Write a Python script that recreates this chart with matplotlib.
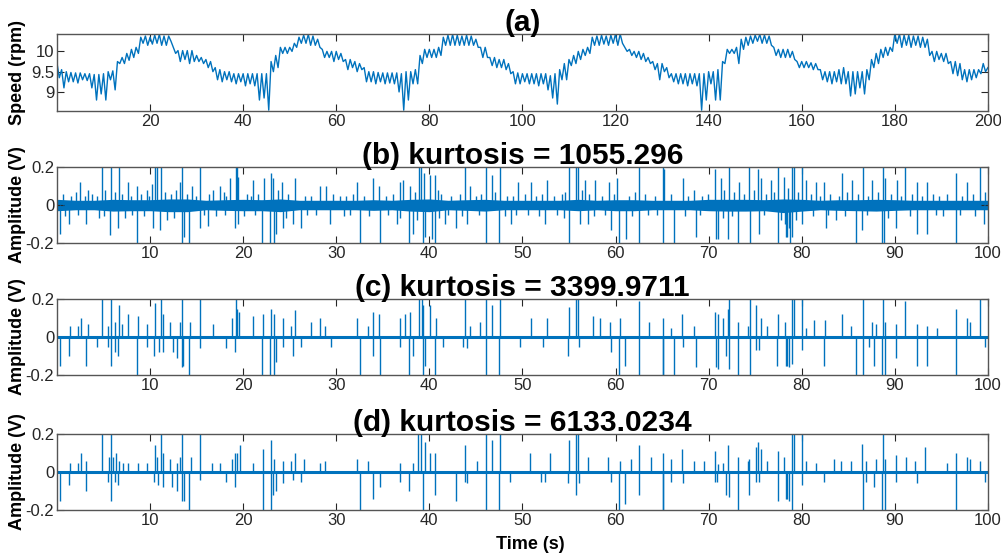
import numpy as np
import matplotlib.pyplot as plt

plt.rcParams['font.family'] = ['Liberation Sans', 'DejaVu Sans']

# (a) rotating speed: local peak at each whole second (0..200)
# and the dip half a second later (0.5..199.5)
speed_hi = [9.72, 9.55, 9.50, 9.48, 9.47, 9.47, 9.45, 9.45, 9.43, 9.43,
            9.45, 9.50, 9.52, 9.75, 9.85, 9.95, 10.05, 10.10, 10.35, 10.38,
            10.35, 10.40, 10.42, 10.38, 10.38, 10.10, 10.02, 10.02, 10.02, 10.02,
            9.90, 9.85, 9.80, 9.75, 9.60, 9.55, 9.50, 9.50, 9.45, 9.45,
            9.45, 9.45, 9.45, 9.45, 9.45, 9.45, 9.75, 9.90, 10.10, 10.10,
            10.10, 10.20, 10.35, 10.40, 10.42, 10.38, 10.30, 10.05, 10.00, 10.00,
            10.00, 9.95, 9.80, 9.80, 9.75, 9.70, 9.60, 9.50, 9.50, 9.48,
            9.47, 9.47, 9.47, 9.47, 9.45, 9.50, 9.50, 9.55, 9.90, 10.05,
            10.05, 10.05, 10.10, 10.35, 10.40, 10.42, 10.40, 10.38, 10.40, 10.38,
            10.30, 10.10, 10.10, 9.85, 9.85, 9.80, 9.80, 9.70, 9.50, 9.47,
            9.45, 9.45, 9.45, 9.45, 9.45, 9.45, 9.40, 9.45, 9.55, 9.70,
            9.80, 9.90, 10.00, 10.05, 10.10, 10.35, 10.38, 10.40, 10.38, 10.40,
            10.43, 10.43, 10.10, 10.05, 10.00, 10.00, 9.95, 9.85, 9.75, 9.70,
            9.70, 9.60, 9.45, 9.45, 9.45, 9.45, 9.45, 9.45, 9.45, 9.45,
            9.50, 9.50, 9.55, 9.75, 10.05, 10.05, 10.10, 10.30, 10.35, 10.38,
            10.40, 10.42, 10.40, 10.38, 10.10, 10.05, 10.05, 10.05, 10.00, 9.75,
            9.75, 9.75, 9.72, 9.70, 9.55, 9.50, 9.50, 9.50, 9.55, 9.60,
            9.50, 9.50, 9.50, 9.50, 9.55, 9.80, 9.95, 10.05, 10.10, 10.10,
            10.43, 10.43, 10.40, 10.40, 10.38, 10.38, 10.35, 10.30, 10.00, 10.00,
            9.95, 9.95, 9.75, 9.75, 9.70, 9.55, 9.55, 9.55, 9.55, 9.70,
            9.60]
speed_lo = [9.35, 9.10, 9.25, 9.25, 9.22, 9.30, 9.28, 9.10, 8.80, 8.95,
            8.80, 9.30, 9.05, 9.70, 9.70, 9.78, 9.85, 9.95, 10.20, 10.15,
            10.18, 10.20, 10.15, 10.15, 10.25, 9.95, 9.75, 9.80, 9.70, 9.75,
            9.75, 9.70, 9.60, 9.50, 9.30, 9.25, 9.30, 9.25, 9.20, 9.25,
            9.15, 9.20, 9.15, 8.80, 8.85, 8.55, 9.50, 9.60, 9.95, 9.95,
            10.00, 10.10, 10.20, 10.20, 10.15, 10.15, 10.10, 9.85, 9.85, 9.75,
            9.80, 9.75, 9.55, 9.60, 9.50, 9.55, 9.25, 9.25, 9.20, 9.25,
            9.20, 9.22, 9.20, 9.00, 8.55, 8.80, 9.20, 9.20, 9.70, 9.85,
            9.85, 9.85, 9.90, 10.15, 10.15, 10.15, 10.15, 10.15, 10.15, 10.15,
            10.10, 9.85, 9.85, 9.65, 9.60, 9.60, 9.55, 9.45, 9.20, 9.20,
            9.25, 9.20, 9.20, 9.15, 9.20, 9.05, 8.85, 8.70, 9.30, 9.30,
            9.65, 9.70, 9.80, 9.90, 9.95, 10.15, 10.15, 10.18, 10.15, 10.20,
            10.15, 10.20, 10.00, 9.90, 9.85, 9.80, 9.75, 9.70, 9.55, 9.30,
            9.50, 9.35, 9.25, 9.20, 9.20, 9.15, 9.20, 9.15, 8.55, 8.80,
            9.20, 8.80, 8.80, 9.70, 9.95, 9.95, 9.70, 10.05, 10.15, 10.20,
            10.25, 10.20, 10.20, 10.15, 9.90, 9.85, 9.85, 9.85, 9.80, 9.60,
            9.60, 9.60, 9.55, 9.55, 9.30, 9.25, 9.20, 9.25, 9.20, 9.20,
            8.90, 8.95, 9.10, 8.95, 9.30, 9.60, 9.70, 9.85, 9.90, 10.00,
            10.20, 10.10, 10.15, 10.10, 10.15, 10.10, 10.10, 9.90, 9.75, 9.80,
            9.75, 9.70, 9.45, 9.40, 9.30, 9.25, 9.30, 9.35, 9.45, 9.50]

# (b) raw vibration: envelope of the dense noise band, every 2 s
band_hi = [0.030, 0.025, 0.025, 0.030, 0.028, 0.028, 0.032, 0.032, 0.025, 0.028,
           0.030, 0.028, 0.032, 0.025, 0.025, 0.025, 0.025, 0.028, 0.025, 0.030,
           0.032, 0.025, 0.028, 0.030, 0.025, 0.025, 0.025, 0.025, 0.030, 0.025,
           0.028, 0.028, 0.025, 0.025, 0.025, 0.030, 0.030, 0.030, 0.028, 0.032,
           0.030, 0.025, 0.028, 0.028, 0.030, 0.028, 0.025, 0.025, 0.025, 0.025,
           0.025]
band_lo = [-0.030, -0.025, -0.025, -0.032, -0.030, -0.030, -0.035, -0.035, -0.025, -0.028,
           -0.030, -0.030, -0.035, -0.025, -0.025, -0.025, -0.025, -0.028, -0.025, -0.032,
           -0.035, -0.025, -0.028, -0.032, -0.025, -0.025, -0.025, -0.025, -0.030, -0.025,
           -0.030, -0.030, -0.025, -0.025, -0.025, -0.030, -0.032, -0.032, -0.030, -0.040,
           -0.032, -0.025, -0.028, -0.030, -0.032, -0.028, -0.025, -0.025, -0.025, -0.025,
           -0.025]

# short impulses riding on the noise band of (b)
b_small_t = [0.6, 1.5, 2.0, 3.0, 3.8, 4.3, 5.2, 6.2, 7.0, 7.9, 9.0, 9.9, 11.6, 12.3,
             12.8, 14.0, 14.9, 16.3, 17.9, 18.2, 20.4, 20.8, 21.6, 23.7, 24.8, 26.6,
             27.3, 29.6, 30.4, 31.1, 31.8, 33.0, 35.3, 36.1, 38.5, 40.9, 41.3, 42.3,
             43.3, 45.0, 45.6, 47.1, 48.3, 49.0, 50.3, 51.5, 52.1, 53.4, 54.2, 54.6,
             56.4, 57.2, 58.5, 59.8, 61.5, 62.1, 63.2, 64.2, 66.0, 67.8, 69.3, 69.9,
             71.7, 72.7, 73.8, 74.9, 76.2, 77.0, 78.5, 79.6, 81.0, 82.0, 83.0, 84.0,
             84.9, 86.0, 87.1, 88.2, 89.6, 90.7, 91.8, 92.9, 94.1, 94.8, 95.6, 97.2,
             98.4, 99.7,
             0.9, 2.3, 4.5, 5.0, 7.3, 8.1, 9.3, 11.8, 12.6, 15.8, 17.1, 18.0, 20.1,
             21.3, 24.6, 26.9, 27.8, 30.8, 31.5, 33.5, 35.6, 36.9, 38.7, 41.0, 42.0,
             43.5, 45.3, 48.1, 49.3, 50.6, 51.8, 53.7, 54.5, 57.7, 58.9, 61.8, 63.5,
             64.5, 67.5, 69.1, 71.5, 72.5, 76.0, 77.8, 78.2, 78.6, 79.4, 81.2, 82.8,
             84.6, 87.0, 89.3, 91.6, 94.4, 95.2, 97.0, 98.6]
b_small_v = [0.06, 0.05, 0.07, 0.05, 0.06, 0.05, 0.08, 0.07, 0.06, 0.05, 0.06, 0.05,
             0.07, 0.06, 0.08, 0.06, 0.05, 0.06, 0.07, 0.05, 0.06, 0.05, 0.06, 0.08,
             0.06, 0.05, 0.05, 0.06, 0.05, 0.05, 0.06, 0.05, 0.05, 0.06, 0.07, 0.08,
             0.06, 0.05, 0.06, 0.05, 0.06, 0.07, 0.05, 0.05, 0.06, 0.05, 0.06, 0.05,
             0.06, 0.07, 0.08, 0.06, 0.05, 0.06, 0.05, 0.07, 0.06, 0.05, 0.06, 0.05,
             0.05, 0.06, 0.08, 0.07, 0.06, 0.08, 0.06, 0.07, 0.09, 0.07, 0.06, 0.05,
             0.06, 0.05, 0.07, 0.06, 0.05, 0.07, 0.06, 0.05, 0.06, 0.05, 0.06, 0.05,
             0.06, 0.05, 0.06, 0.07,
             -0.06, -0.05, -0.07, -0.06, -0.07, -0.05, -0.06, -0.08, -0.07, -0.05,
             -0.06, -0.05, -0.06, -0.05, -0.07, -0.05, -0.05, -0.06, -0.05, -0.06,
             -0.05, -0.07, -0.08, -0.07, -0.05, -0.06, -0.05, -0.06, -0.05, -0.05,
             -0.06, -0.05, -0.07, -0.06, -0.05, -0.06, -0.05, -0.05, -0.06, -0.05,
             -0.07, -0.06, -0.05, -0.08, -0.10, -0.12, -0.08, -0.06, -0.05, -0.06,
             -0.05, -0.07, -0.06, -0.05, -0.06, -0.05, -0.06]

# impulses of each signal: time (s) and peak value (V); 0.25 means clipped at the frame
b_t = [4.82, 5.79, 6.64, 10.54, 10.71, 11.21, 13.46, 15.39, 19.18, 19.36, 23.0, 2.5,
       3.32, 7.64, 8.64, 9.64, 10.18, 13.21, 14.46, 16.79, 17.5, 18.57, 19.5, 21.07,
       22.21, 23.21, 24.21, 25.57, 28.21, 28.93,
       0.29, 1.25, 3.14, 5.71, 6.61, 8.64, 10.36, 11.07, 13.39, 13.64, 14.18, 15.36,
       16.25, 19.11, 19.5, 22.07, 22.93, 23.29, 23.5, 24.29, 25.36, 26.25, 29.29,
       32.21, 34.0, 34.64, 36.86, 37.21, 37.93, 38.86, 39.07, 39.46, 40.07, 40.61, 43.82,
       44.36, 46.14, 46.75, 47.57, 49.54, 50.96, 52.64, 55.0, 55.71, 55.96, 56.68, 57.75,
       59.29, 60.14, 62.57, 65.25,
       32.5, 34.71, 36.5, 37.82, 38.29, 39.29, 39.54, 40.25, 40.64, 41.68, 42.86, 44.0,
       46.07, 47.5, 48.82, 52.39, 55.0, 56.14, 57.04, 59.54, 60.36, 61.14, 62.57, 65.07,
       65.14, 67.21, 68.39, 70.71, 71.32, 72.14, 73.29, 74.36, 75.29, 75.61, 76.68, 77.5,
       78.11, 78.93, 79.18, 80.0, 80.43, 81.5, 82.39, 84.36, 85.43, 86.57, 87.57, 88.71,
       89.0, 90.25, 91.14, 92.39, 93.46, 96.61, 97.75, 99.18,
       66.32, 68.64, 70.79, 70.96, 72.04, 73.21, 74.46, 75.43, 77.5, 78.29, 78.46, 78.75,
       79.0, 80.0, 82.57, 83.64, 85.86, 86.5, 88.64, 88.89, 90.14, 92.39, 93.46, 96.61,
       99.54]
b_v = [0.25, 0.25, 0.25, 0.25, 0.2, 0.25, 0.25, 0.25, 0.25, 0.25, 0.17, 0.12,
       0.08, 0.12, 0.1, 0.08, 0.11, 0.12, 0.1, 0.08, 0.1, 0.14, 0.15, 0.13,
       0.14, 0.14, 0.12, 0.14, 0.1, 0.1,
       -0.15, -0.1, -0.1, -0.16, -0.12, -0.25, -0.12, -0.13, -0.25, -0.17, -0.25, -0.12,
       -0.11, -0.12, -0.1, -0.25, -0.25, -0.25, -0.15, -0.12, -0.1, -0.12, -0.1,
       0.12, 0.14, 0.1, 0.12, 0.13, 0.1, 0.25, 0.25, 0.17, 0.16, 0.16, 0.25,
       0.1, 0.25, 0.16, 0.25, 0.12, 0.12, 0.13, 0.2, 0.25, 0.25, 0.13, 0.13,
       0.12, 0.14, 0.2, 0.19,
       -0.25, -0.25, -0.1, -0.25, -0.15, -0.25, -0.17, -0.18, -0.25, -0.1, -0.12, -0.1,
       -0.25, -0.25, -0.1, -0.1, -0.25, -0.1, -0.1, -0.13, -0.25, -0.18, -0.25, -0.25,
       0.25, 0.14, 0.08, 0.19, 0.14, 0.25, 0.12, 0.25, 0.19, 0.14, 0.13, 0.25,
       0.15, 0.25, 0.25, 0.25, 0.13, 0.12, 0.12, 0.17, 0.13, 0.25, 0.13, 0.25,
       0.14, 0.13, 0.25, 0.12, 0.12, 0.17, 0.12, 0.25,
       -0.25, -0.17, -0.18, -0.18, -0.18, -0.25, -0.25, -0.15, -0.25, -0.17, -0.17, -0.25,
       -0.17, -0.1, -0.12, -0.08, -0.25, -0.13, -0.25, -0.25, -0.12, -0.15, -0.15, -0.25,
       -0.1]

c_t = [1.36, 2.21, 2.57, 3.29, 4.82, 5.43, 5.79, 6.25, 6.64, 6.96, 7.68, 8.68,
       9.64, 10.54, 11.21, 11.43, 12.14, 13.21, 13.46, 14.29, 15.39, 16.79, 18.75, 19.18,
       19.36, 19.57, 21.07, 22.14, 23.04, 23.29, 24.29, 25.18, 25.54, 27.32, 28.21, 28.75,
       0.29, 1.25, 3.14, 4.29, 5.43, 5.82, 6.25, 6.61, 8.64, 9.64, 10.43, 10.96,
       11.43, 12.5, 12.86, 13.39, 13.57, 14.18, 15.36, 18.21, 19.11, 22.07, 22.93, 23.29,
       23.57, 24.29, 25.36, 26.25, 29.46,
       32.21, 33.36, 33.93, 34.64, 36.86, 37.39, 37.93, 38.86, 39.18, 39.36, 40.07, 40.71,
       43.82, 44.36, 45.43, 46.14, 46.75, 47.57, 50.96, 52.64, 55.0, 55.71, 55.96, 57.57,
       58.29, 59.36, 60.43, 62.57, 63.64,
       32.5, 34.0, 34.71, 36.86, 37.82, 38.29, 39.29, 39.54, 40.64, 41.5, 43.64, 44.0,
       46.07, 47.5, 49.71, 52.21, 54.93, 56.07, 59.54, 60.36, 61.07, 62.57, 65.07,
       65.07, 65.96, 67.14, 68.39, 70.71, 70.96, 71.5, 72.04, 72.14, 73.21, 74.18, 74.43,
       75.14, 75.61, 76.32, 77.5, 78.21, 78.93, 79.18, 80.0, 80.43, 81.32, 82.46, 84.36,
       85.32, 86.57, 87.57, 87.93, 88.71, 89.0, 90.14, 91.14, 92.39, 93.46, 94.54, 96.61,
       97.75, 98.11, 99.18,
       65.07, 66.32, 67.21, 68.64, 70.79, 70.96, 71.86, 72.14, 73.21, 74.46, 75.07, 75.36,
       77.39, 78.29, 78.46, 78.64, 79.0, 80.0, 82.39, 85.86, 86.57, 87.21, 87.75, 88.64,
       88.93, 90.14, 92.39, 93.46, 96.61, 99.64]
c_v = [0.06, 0.06, 0.1, 0.07, 0.25, 0.06, 0.25, 0.08, 0.17, 0.07, 0.12, 0.11,
       0.07, 0.18, 0.25, 0.12, 0.08, 0.08, 0.25, 0.08, 0.25, 0.07, 0.1, 0.25,
       0.15, 0.13, 0.11, 0.12, 0.15, 0.12, 0.1, 0.06, 0.14, 0.08, 0.1, 0.06,
       -0.15, -0.1, -0.15, -0.05, -0.05, -0.15, -0.08, -0.1, -0.25, -0.05, -0.1, -0.08,
       -0.08, -0.08, -0.11, -0.16, -0.15, -0.25, -0.06, -0.06, -0.08, -0.25, -0.25, -0.25,
       -0.13, -0.05, -0.1, -0.05, -0.05,
       0.1, 0.06, 0.13, 0.12, 0.1, 0.12, 0.13, 0.25, 0.25, 0.17, 0.17, 0.1,
       0.25, 0.06, 0.08, 0.25, 0.17, 0.25, 0.1, 0.1, 0.16, 0.25, 0.25, 0.11,
       0.1, 0.08, 0.1, 0.19, 0.08,
       -0.25, -0.1, -0.25, -0.05, -0.25, -0.1, -0.25, -0.15, -0.25, -0.05, -0.05, -0.06,
       -0.25, -0.25, -0.05, -0.05, -0.1, -0.05, -0.08, -0.25, -0.15, -0.25, -0.25,
       0.1, 0.05, 0.12, 0.06, 0.13, 0.12, 0.1, 0.15, 0.25, 0.08, 0.06, 0.25,
       0.17, 0.1, 0.06, 0.12, 0.08, 0.25, 0.25, 0.25, 0.05, 0.09, 0.09, 0.12,
       0.06, 0.25, 0.08, 0.07, 0.25, 0.08, 0.07, 0.19, 0.07, 0.06, 0.05, 0.15,
       0.1, 0.08, 0.25,
       -0.25, -0.25, -0.05, -0.16, -0.16, -0.17, -0.1, -0.17, -0.25, -0.25, -0.07, -0.07,
       -0.15, -0.15, -0.15, -0.16, -0.14, -0.07, -0.15, -0.25, -0.25, -0.05, -0.15, -0.25,
       -0.25, -0.11, -0.15, -0.15, -0.25, -0.05]

d_t = [1.36, 2.21, 2.57, 3.14, 4.82, 5.54, 5.79, 6.07, 6.36, 6.68, 7.07, 7.68,
       8.68, 9.64, 10.54, 10.79, 11.21, 11.43, 12.14, 12.86, 13.21, 13.46, 14.36, 15.39,
       16.61, 17.5, 18.75, 19.11, 19.36, 19.64, 21.07, 22.14, 23.04, 23.29, 24.29, 25.18,
       25.54, 26.5, 28.21, 28.75,
       0.29, 1.25, 3.14, 5.43, 5.79, 6.25, 6.61, 10.43, 10.89, 11.43, 12.32, 12.86,
       13.39, 13.64, 14.18, 15.36, 18.21, 19.11, 22.14, 23.04, 23.21, 23.57, 24.29, 25.36,
       26.25,
       32.21, 33.36, 36.86, 38.29, 38.82, 39.07, 39.54, 40.07, 40.61, 43.82, 45.07, 46.14,
       46.68, 47.57, 50.79, 53.0, 55.0, 55.71, 55.96, 57.04, 59.18, 60.43, 61.68, 62.57,
       63.82,
       32.5, 34.0, 34.71, 36.86, 37.82, 39.29, 40.64, 42.86, 43.82, 44.0, 46.07, 47.5,
       48.64, 52.04, 52.39, 54.93, 55.79, 56.07, 59.54, 60.36, 61.07, 62.57, 65.07,
       65.07, 65.96, 67.14, 68.39, 69.54, 70.71, 70.96, 71.5, 72.04, 73.21, 74.18, 74.36,
       75.07, 75.29, 75.61, 76.32, 77.5, 78.11, 78.93, 79.18, 80.0, 80.43, 81.5, 83.46,
       84.18, 85.32, 86.5, 86.86, 87.93, 88.71, 89.0, 90.14, 91.21, 92.21, 93.29, 95.61,
       96.61, 97.75, 98.11, 99.18,
       65.07, 65.96, 67.21, 70.71, 70.86, 71.86, 72.21, 73.21, 74.36, 75.07, 75.36, 77.5,
       78.29, 78.46, 78.64, 78.93, 80.0, 82.39, 86.57, 86.86, 87.75, 88.64, 88.93, 90.14,
       92.39, 96.61, 99.64]
d_v = [0.05, 0.05, 0.1, 0.06, 0.25, 0.08, 0.25, 0.08, 0.1, 0.06, 0.05, 0.05,
       0.05, 0.05, 0.14, 0.08, 0.25, 0.1, 0.07, 0.05, 0.08, 0.25, 0.08, 0.25,
       0.05, 0.05, 0.07, 0.1, 0.1, 0.14, 0.05, 0.12, 0.17, 0.07, 0.06, 0.06,
       0.1, 0.07, 0.05, 0.06,
       -0.15, -0.07, -0.1, -0.05, -0.15, -0.05, -0.07, -0.05, -0.07, -0.08, -0.08, -0.1,
       -0.15, -0.15, -0.25, -0.04, -0.05, -0.08, -0.25, -0.25, -0.12, -0.1, -0.06, -0.04,
       -0.05,
       0.07, 0.06, 0.05, 0.05, 0.25, 0.25, 0.16, 0.1, 0.1, 0.14, 0.06, 0.25,
       0.17, 0.25, 0.1, 0.1, 0.17, 0.25, 0.25, 0.08, 0.08, 0.06, 0.07, 0.14,
       0.08,
       -0.25, -0.14, -0.08, -0.05, -0.1, -0.25, -0.12, -0.15, -0.05, -0.06, -0.25, -0.25,
       -0.05, -0.05, -0.05, -0.06, -0.12, -0.06, -0.05, -0.25, -0.17, -0.12, -0.25,
       0.1, 0.07, 0.12, 0.06, 0.06, 0.11, 0.04, 0.05, 0.14, 0.08, 0.06, 0.07,
       0.13, 0.16, 0.12, 0.06, 0.11, 0.08, 0.25, 0.25, 0.25, 0.06, 0.05, 0.07,
       0.06, 0.06, 0.15, 0.06, 0.07, 0.25, 0.07, 0.09, 0.08, 0.06, 0.13, 0.05,
       0.1, 0.08, 0.07, 0.06,
       -0.25, -0.05, -0.06, -0.05, -0.05, -0.12, -0.13, -0.25, -0.12, -0.05, -0.05, -0.15,
       -0.14, -0.14, -0.15, -0.25, -0.07, -0.05, -0.25, -0.05, -0.08, -0.25, -0.25, -0.05,
       -0.06, -0.25, -0.05]

titles = ['(a)', '(b) kurtosis = 1055.296', '(c) kurtosis = 3399.9711',
          '(d) kurtosis = 6133.0234']

blue = '#0072BD'
frame = '#262626'

fig = plt.figure(figsize=(10.01, 5.56), dpi=100)
bottoms = [0.8004, 0.5629, 0.3255, 0.0827]
heights = [0.1385, 0.1367, 0.1367, 0.1367]
axs = [fig.add_axes([0.0569, b, 0.930, h]) for b, h in zip(bottoms, heights)]

# (a) speed
speed_t = np.arange(0, 200.5, 0.5)
speed = np.empty(len(speed_t))
speed[0::2] = speed_hi
speed[1::2] = speed_lo
ax = axs[0]
ax.plot(speed_t, speed, color=blue, lw=1.0)
ax.set_xlim(0, 200)
ax.set_ylim(8.53, 10.43)
ax.set_xticks(np.arange(20, 201, 20))
ax.set_yticks([9, 9.5, 10])
ax.set_yticklabels(['9', '9.5', '10'])
ax.set_ylabel('Speed (rpm)', fontsize=13, fontweight='bold')

# (b)
ax = axs[1]
band_t = np.arange(0, 101, 2)
ax.fill_between(band_t, band_lo, band_hi, color=blue, lw=0)
ax.vlines(b_small_t, 0, b_small_v, color=blue, lw=1.0)
ax.vlines(b_t, 0, b_v, color=blue, lw=1.0)

# (c) and (d): near-zero baseline plus impulses
for ax, ts, vs in [(axs[2], c_t, c_v), (axs[3], d_t, d_v)]:
    ax.plot([0, 100], [0, 0], color=blue, lw=2.2)
    ax.vlines(ts, 0, vs, color=blue, lw=1.0)

for ax in axs[1:]:
    ax.set_xlim(0, 100)
    ax.set_ylim(-0.2, 0.2)
    ax.set_xticks(np.arange(10, 101, 10))
    ax.set_yticks([-0.2, 0, 0.2])
    ax.set_yticklabels(['-0.2', '0', '0.2'])
    ax.set_ylabel('Amplitude (V)', fontsize=13, fontweight='bold')

axs[3].set_xlabel('Time (s)', fontsize=13, fontweight='bold')
axs[3].xaxis.set_label_coords(0.509, -0.34)

for ax, title in zip(axs, titles):
    ax.set_title(title, fontsize=21.5, fontweight='bold', pad=2)
    ax.tick_params(direction='in', top=True, right=True, length=5, width=0.8,
                   labelsize=12, colors=frame, pad=2)
    for s in ax.spines.values():
        s.set_color('#555555')
        s.set_linewidth(1.0)
    ax.yaxis.set_label_coords(-0.033, 0.5)

fig.savefig('out.png', dpi=100)
